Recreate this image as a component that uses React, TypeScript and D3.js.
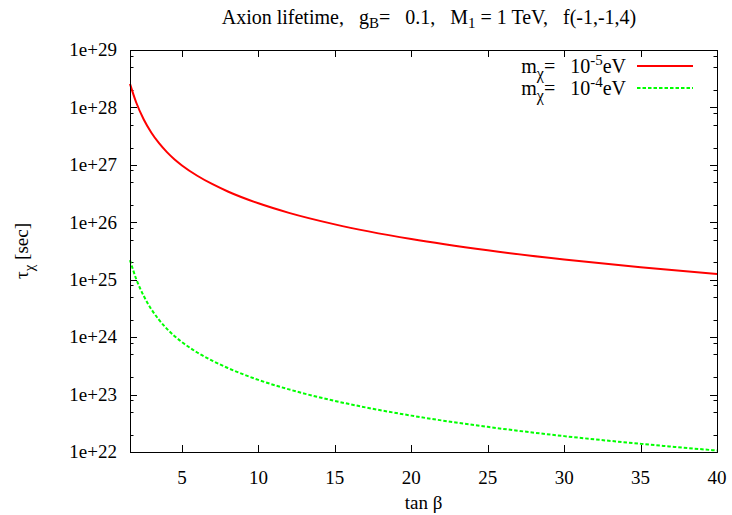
import React, { useEffect, useRef } from 'react';
import * as d3 from 'd3';

// values
const tanBeta = [1.6, 2, 2.5, 3, 3.5, 4, 4.5, 5, 6, 7, 8, 10, 12, 15, 20, 25, 30, 35, 40];
const tauM5 = [2.57e28, 1.23e28, 6.17e27, 3.63e27, 2.38e27, 1.68e27, 1.25e27, 9.77e26, 6.46e26, 4.6e26, 3.44e26, 2.14e26, 1.46e26, 9.2e25, 5.1e25, 3.25e25, 2.25e25, 1.65e25, 1.26e25];
const tauM4 = [2.19e25, 1.04e25, 5.2e24, 3.05e24, 2.0e24, 1.41e24, 1.05e24, 8.2e23, 5.4e23, 3.87e23, 2.9e23, 1.8e23, 1.23e23, 7.76e22, 4.3e22, 2.74e22, 1.89e22, 1.39e22, 1.06e22];
const xTicks = [5, 10, 15, 20, 25, 30, 35, 40];
const yTicks = [1e22, 1e23, 1e24, 1e25, 1e26, 1e27, 1e28, 1e29];
const yMinorMult = [2, 5, 8];

const FONT = 'Liberation Serif, DejaVu Serif, serif';

const App = () => {
  const svgRef = useRef<SVGSVGElement>(null);

  useEffect(() => {
    const W = 732, H = 515;
    const margin = { top: 50, right: 15, bottom: 63, left: 130 };
    const width = W - margin.left - margin.right;
    const height = H - margin.top - margin.bottom;

    const svg = d3.select(svgRef.current);
    svg.selectAll('*').remove();
    svg.attr('width', W).attr('height', H).attr('font-family', FONT);

    const x = d3.scaleLinear().domain([1.6, 40]).range([0, width]);
    const y = d3.scaleLog().domain([1e22, 1e29]).range([height, 0]);

    const g = svg.append('g').attr('transform', `translate(${margin.left},${margin.top})`);

    // ticks, mirrored on all four sides
    const majorLen = 7, minorLen = 3.5;
    const ticks = g.append('g').attr('stroke', '#000').attr('stroke-width', 1);
    xTicks.forEach(t => {
      const px = Math.round(x(t)) + 0.5;
      ticks.append('line').attr('x1', px).attr('x2', px).attr('y1', height).attr('y2', height - majorLen);
      ticks.append('line').attr('x1', px).attr('x2', px).attr('y1', 0).attr('y2', majorLen);
    });
    yTicks.forEach(t => {
      const py = Math.round(y(t)) + 0.5;
      ticks.append('line').attr('x1', 0).attr('x2', majorLen).attr('y1', py).attr('y2', py);
      ticks.append('line').attr('x1', width).attr('x2', width - majorLen).attr('y1', py).attr('y2', py);
      yMinorMult.forEach(m => {
        const v = t * m;
        if (v >= 1e29) return;
        const pm = Math.round(y(v)) + 0.5;
        ticks.append('line').attr('x1', 0).attr('x2', minorLen).attr('y1', pm).attr('y2', pm);
        ticks.append('line').attr('x1', width).attr('x2', width - minorLen).attr('y1', pm).attr('y2', pm);
      });
    });

    // tick labels
    g.append('g')
      .selectAll('text')
      .data(xTicks)
      .enter()
      .append('text')
      .attr('x', d => x(d))
      .attr('y', height + 32)
      .attr('text-anchor', 'middle')
      .attr('font-size', 19)
      .text(d => d);

    g.append('g')
      .selectAll('text')
      .data(yTicks)
      .enter()
      .append('text')
      .attr('x', -13)
      .attr('y', d => y(d))
      .attr('dy', '0.33em')
      .attr('text-anchor', 'end')
      .attr('font-size', 19)
      .text(d => `1e+${Math.round(Math.log10(d))}`);

    // curves
    const line = d3.line<number>()
      .x((d, i) => x(tanBeta[i]))
      .y(d => y(d))
      .curve(d3.curveMonotoneX);

    g.append('path')
      .datum(tauM5)
      .attr('fill', 'none')
      .attr('stroke', '#ff0000')
      .attr('stroke-width', 2)
      .attr('d', line);

    g.append('path')
      .datum(tauM4)
      .attr('fill', 'none')
      .attr('stroke', '#00ff00')
      .attr('stroke-width', 2)
      .attr('stroke-dasharray', '3.5,2')
      .attr('d', line);

    // border
    g.append('rect')
      .attr('x', 0.5).attr('y', 0.5)
      .attr('width', width).attr('height', height)
      .attr('fill', 'none')
      .attr('stroke', '#000')
      .attr('stroke-width', 1);

    // legend
    const legend = [
      { exp: '-5', color: '#ff0000', dash: null, yy: 16 },
      { exp: '-4', color: '#00ff00', dash: '3.5,2', yy: 38 },
    ];
    legend.forEach(l => {
      const t = g.append('text')
        .attr('x', 496)
        .attr('y', l.yy + 7)
        .attr('text-anchor', 'end')
        .attr('font-size', 20)
        .style('white-space', 'pre');
      t.append('tspan').text('m');
      t.append('tspan').attr('dy', 6).attr('font-size', 16).text('χ');
      t.append('tspan').attr('dy', -6).text('=   10');
      t.append('tspan').attr('dy', -8).attr('font-size', 15).text(l.exp);
      t.append('tspan').attr('dy', 8).text('eV');
      g.append('line')
        .attr('x1', 507).attr('x2', 563)
        .attr('y1', l.yy).attr('y2', l.yy)
        .attr('stroke', l.color)
        .attr('stroke-width', 2)
        .attr('stroke-dasharray', l.dash);
    });

    // title
    const title = svg.append('text')
      .attr('x', 429)
      .attr('y', 24)
      .attr('text-anchor', 'middle')
      .attr('font-size', 20)
      .style('white-space', 'pre');
    title.append('tspan').text('Axion lifetime,   g');
    title.append('tspan').attr('dy', 4).attr('font-size', 15).text('B');
    title.append('tspan').attr('dy', -4).text('=   0.1,   M');
    title.append('tspan').attr('dy', 4).attr('font-size', 15).text('1');
    title.append('tspan').attr('dy', -4).text(' = 1 TeV,   f(-1,-1,4)');

    // axis titles
    svg.append('text')
      .attr('x', margin.left + width / 2)
      .attr('y', 509)
      .attr('text-anchor', 'middle')
      .attr('font-size', 19)
      .text('tan β');

    const yl = svg.append('text')
      .attr('transform', `translate(28,${margin.top + height / 2}) rotate(-90)`)
      .attr('text-anchor', 'middle')
      .attr('font-size', 19)
      .style('white-space', 'pre');
    yl.append('tspan').text('τ');
    yl.append('tspan').attr('dy', 6).attr('font-size', 15).text('χ');
    yl.append('tspan').attr('dy', -6).text(' [sec]');
  }, []);

  return (
    <svg ref={svgRef} style={{ position: 'absolute', left: 0, top: 0, background: '#fff' }}></svg>
  );
};

export default App;
